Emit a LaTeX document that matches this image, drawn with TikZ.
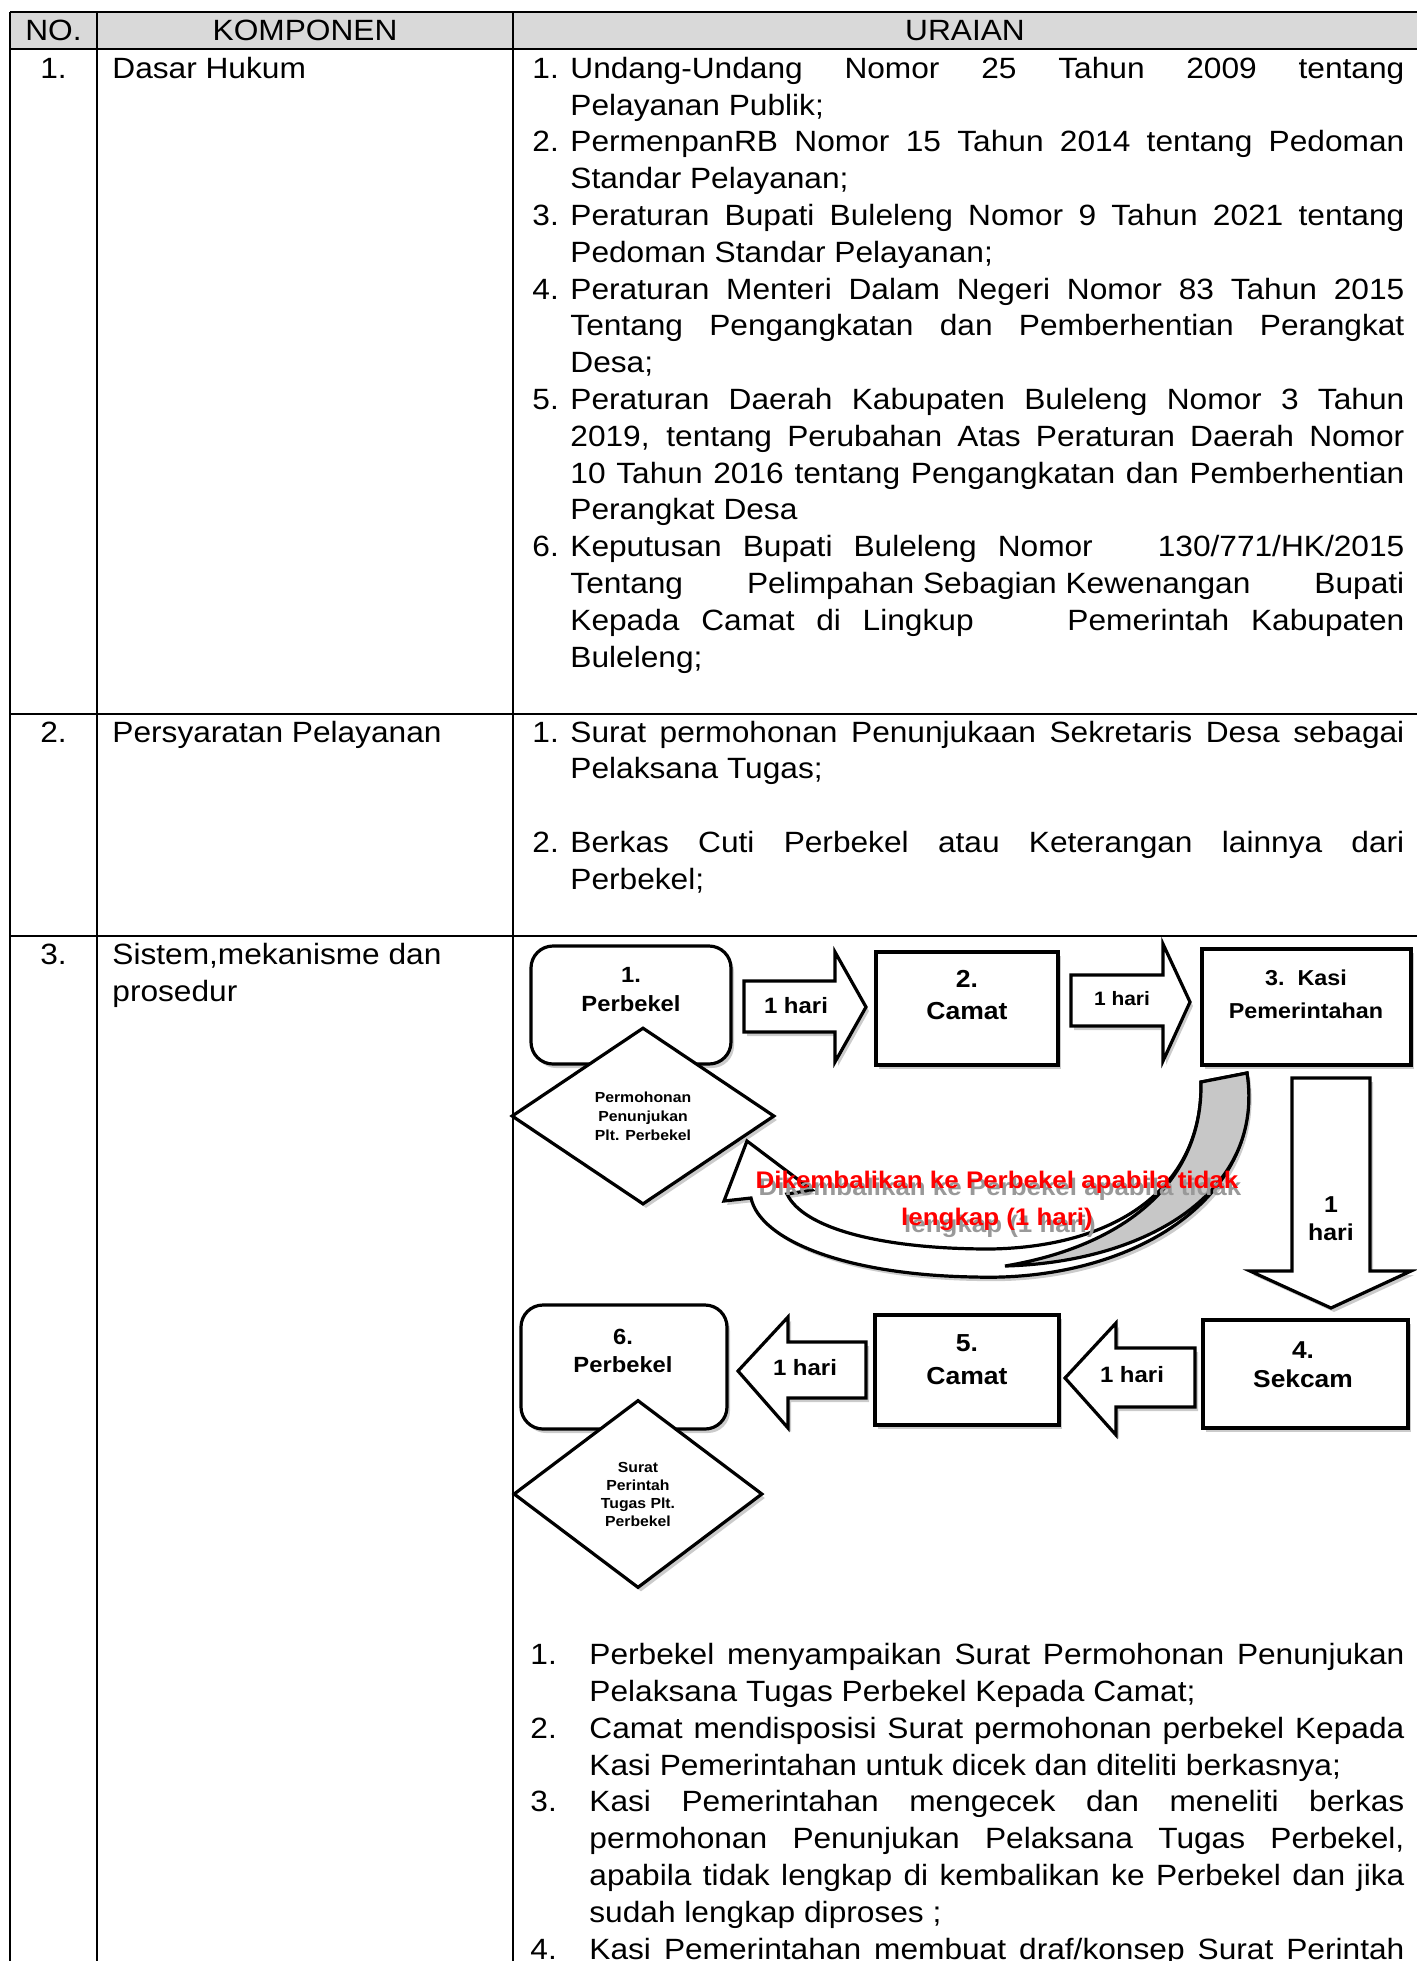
\documentclass[tikz,border=0pt]{standalone}
\usepackage{fontspec}
\setmainfont{Liberation Sans}[FakeStretch=1.08]
\usetikzlibrary{shapes.geometric,shadows}
\hyphenpenalty=10000
\exhyphenpenalty=10000
\pretolerance=10000
\tolerance=10000
\hbadness=10000

\newcommand{\bodyfont}{\fontsize{14.66}{18.4}\selectfont}
\newcommand{\uitem}[2]{\noindent\hangindent=#1\hangafter=1\strut\makebox[#1][l]{#2}}

\tikzset{
  softshadow/.style={drop shadow={shadow xshift=1.5pt, shadow yshift=-2pt, fill=black!45, opacity=.45}}
}

\begin{document}
\begin{tikzpicture}[x=0.5pt, y=-0.5pt,
    gridline/.style={line width=1pt},
    headtext/.style={anchor=base, inner sep=0pt, font=\bodyfont},
    celltext/.style={anchor=north west, inner sep=0pt, font=\bodyfont, text width=#1, align=justify},
    stepbox/.style={draw, line width=1.6pt, fill=white, softshadow, inner sep=0pt},
    stepround/.style={stepbox, rounded corners=11pt},
    steplbl/.style={inner sep=0pt, align=center},
    decision/.style={diamond, aspect=1.5, draw, line width=1.6pt, fill=white, softshadow,
                     inner sep=0pt, align=center, font=\bfseries\fontsize{7.3}{9.5}\selectfont},
    blockarr/.style={draw, line width=1.6pt, fill=white, line join=miter, softshadow},
    harilbl/.style={inner sep=0pt, align=center, font=\bfseries\fontsize{11.1}{14}\selectfont},
    balik/.style={inner sep=0pt, align=center, text=red, font=\bfseries\fontsize{12}{18.5}\selectfont}
  ]
  \useasboundingbox (0,0) rectangle (1417,1961);
  \clip (0,0) rectangle (1417,1961);

  % table frame
  \fill[black!15] (10,12) rectangle (1417,49);
  \foreach \y in {12,49,714,936}
    \draw[gridline] (10,\y) -- (1417,\y);
  \foreach \x in {10,97,513}
    \draw[gridline] (\x,12) -- (\x,1961);

  \node[headtext] (hno) at (53.5,40) {NO.};
  \node[headtext] (hkomp) at (305,40) {KOMPONEN};
  \node[headtext] (hurai) at (965,40) {URAIAN};

  % row 1
  \node[headtext] (no1) at (53.5,78) {1.};
  \node[headtext, anchor=base west] (komp1) at (112,78) {Dasar Hukum};
  \node[celltext=436pt] (urai1) at (532,52.2) {%
    \uitem{19pt}{1.}Undang-Undang Nomor 25 Tahun 2009 tentang\linebreak Pelayanan Publik;\par
    \uitem{19pt}{2.}PermenpanRB Nomor 15 Tahun 2014 tentang Pedoman\linebreak Standar Pelayanan;\par
    \uitem{19pt}{3.}Peraturan Bupati Buleleng Nomor 9 Tahun 2021 tentang\linebreak Pedoman Standar Pelayanan;\par
    \uitem{19pt}{4.}Peraturan Menteri Dalam Negeri Nomor 83 Tahun 2015\linebreak Tentang Pengangkatan dan Pemberhentian Perangkat\linebreak Desa;\par
    \uitem{19pt}{5.}Peraturan Daerah Kabupaten Buleleng Nomor 3 Tahun\linebreak 2019, tentang Perubahan Atas Peraturan Daerah Nomor\linebreak 10 Tahun 2016 tentang Pengangkatan dan Pemberhentian\linebreak Perangkat Desa\par
    \uitem{19pt}{6.}Keputusan Bupati Buleleng Nomor\hspace{22pt} 130/771/HK/2015\linebreak Tentang\hfill Pelimpahan Sebagian Kewenangan\hfill Bupati\linebreak Kepada Camat di Lingkup\hspace{36pt} Pemerintah Kabupaten\linebreak Buleleng;\par};

  % row 2
  \node[headtext] (no2) at (53.5,742) {2.};
  \node[headtext, anchor=base west] (komp2) at (112,742) {Persyaratan Pelayanan};
  \node[celltext=436pt] (urai2) at (532,716) {%
    \uitem{19pt}{1.}Surat permohonan Penunjukaan Sekretaris Desa sebagai\linebreak Pelaksana Tugas;\par
    \vspace{18.4pt}
    \uitem{19pt}{2.}Berkas Cuti Perbekel atau Keterangan lainnya dari\linebreak Perbekel;\par};

  % row 3
  \node[headtext] (no3) at (53.5,964.3) {3.};
  \node[celltext=200pt] (komp3) at (112,938.5) {\strut Sistem,mekanisme dan\\prosedur};

  % flow boxes
  \node[stepround, minimum width=100pt, minimum height=59pt] (perbekel) at (631,1005) {};
  \node[stepbox, minimum width=91pt, minimum height=56.5pt] (camat) at (967,1008.5) {};
  \node[stepbox, minimum width=104.5pt, minimum height=58pt] (kasi) at (1306.5,1007) {};
  \node[stepbox, minimum width=102.5pt, minimum height=54pt] (sekcam) at (1305.5,1374) {};
  \node[stepbox, minimum width=92pt, minimum height=55pt] (camatb) at (967,1370) {};
  \node[stepround, minimum width=103pt, minimum height=62pt] (perbekelb) at (624,1367) {};

  \node[decision, minimum width=131.5pt, minimum height=88.5pt] (mohon) at (643,1116)
    {Permohonan\\Penunjukan\\Plt. Perbekel};
  \node[decision, minimum width=124.5pt, minimum height=94pt,
        font=\bfseries\fontsize{7.3}{9}\selectfont] (sprint) at (638,1494)
    {Surat\\Perintah\\Tugas Plt.\\Perbekel};

  % block arrows
  \draw[blockarr] (744,981) -- (835,981) -- (835,952) -- (866,1007) -- (835,1062) -- (835,1032) -- (744,1032) -- cycle;
  \draw[blockarr] (1071,975) -- (1163,975) -- (1163,944) -- (1190,1002) -- (1163,1061) -- (1163,1026) -- (1071,1026) -- cycle;
  \draw[blockarr] (1292,1078) -- (1370,1078) -- (1370,1271) -- (1411,1271) -- (1331,1308) -- (1250,1271) -- (1292,1271) -- cycle;
  \draw[blockarr] (1195,1348) -- (1116,1348) -- (1116,1323) -- (1065,1378) -- (1116,1435) -- (1116,1407) -- (1195,1407) -- cycle;
  \draw[blockarr] (866,1342) -- (788,1342) -- (788,1317) -- (738,1371) -- (788,1428) -- (788,1398) -- (866,1398) -- cycle;

  % return arrow
  \draw[blockarr] (1201,1082) -- (1247,1073) .. controls (1265,1200) and (1130,1282) .. (975,1277)
    .. controls (845,1275) and (760,1240) .. (751,1198) -- (724,1201) -- (747,1141) -- (812,1190) -- (787,1194)
    .. controls (803,1228) and (880,1249) .. (990,1249) .. controls (1120,1247) and (1203,1185) .. (1201,1082) -- cycle;
  \draw[line width=1.6pt, fill=black!22] (1201,1082) -- (1247,1073) .. controls (1265,1190) and (1150,1262) .. (1005,1266)
    .. controls (1125,1246) and (1203,1182) .. (1201,1082) -- cycle;

  \node[balik, text=black!40] (baliks) at (1000,1208) {Dikembalikan ke Perbekel apabila tidak\\lengkap (1 hari)};
  \node[balik] (balik) at (997,1201) {Dikembalikan ke Perbekel apabila tidak\\lengkap (1 hari)};

  % labels
  \node[steplbl, font=\bfseries\fontsize{11}{14.5}\selectfont] (perbekel-t) at (631,989.5) {1.\\Perbekel};
  \node[steplbl, font=\bfseries\fontsize{12.3}{16}\selectfont] (camat-t) at (967,995) {2.\\Camat};
  \node[steplbl, font=\bfseries\fontsize{10.8}{16.5}\selectfont] (kasi-t) at (1306,994.5) {3.\ \ Kasi\\Pemerintahan};
  \node[steplbl, font=\bfseries\fontsize{12.2}{14.5}\selectfont] (sekcam-t) at (1303,1364.5) {4.\\Sekcam};
  \node[steplbl, font=\bfseries\fontsize{12.3}{16.5}\selectfont] (camatb-t) at (967,1359.5) {5.\\Camat};
  \node[steplbl, font=\bfseries\fontsize{11}{14}\selectfont] (perbekelb-t) at (623,1351) {6.\\Perbekel};

  \node[harilbl] (hari1) at (796,1006) {1 hari};
  \node[harilbl, font=\bfseries\fontsize{9.7}{12}\selectfont] (hari2) at (1122,999) {1 hari};
  \node[harilbl, font=\bfseries\fontsize{11.5}{14}\selectfont] (hari3) at (1331,1219) {1\\hari};
  \node[harilbl] (hari4) at (1132,1375) {1 hari};
  \node[harilbl] (hari5) at (805,1368) {1 hari};

  % steps
  \node[celltext=437pt] (langkah) at (530,1638.5) {%
    \uitem{29.5pt}{1.}Perbekel menyampaikan Surat Permohonan Penunjukan\linebreak Pelaksana Tugas Perbekel Kepada Camat;\par
    \uitem{29.5pt}{2.}Camat mendisposisi Surat permohonan perbekel Kepada\linebreak Kasi Pemerintahan untuk dicek dan diteliti berkasnya;\par
    \uitem{29.5pt}{3.}Kasi Pemerintahan mengecek dan meneliti berkas\linebreak permohonan Penunjukan Pelaksana Tugas Perbekel,\linebreak apabila tidak lengkap di kembalikan ke Perbekel dan jika\linebreak sudah lengkap diproses ;\par
    \uitem{29.5pt}{4.}{\parfillskip=0pt Kasi Pemerintahan membuat draf/konsep Surat Perintah\par}};
\end{tikzpicture}
\end{document}
